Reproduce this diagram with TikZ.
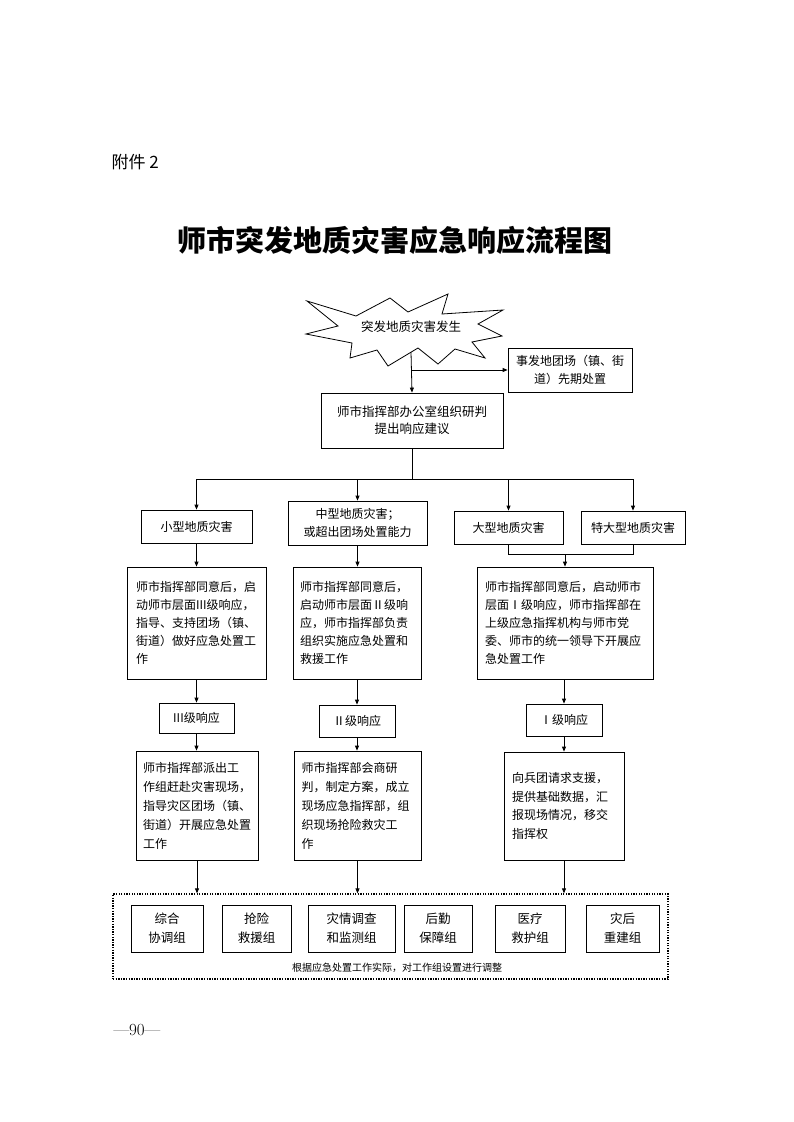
\documentclass[tikz,border=0pt]{standalone}
\usepackage{fontspec}
\newfontfamily\cjk{Noto Sans CJK SC}
\usetikzlibrary{arrows.meta}
\tikzset{
  box/.style={draw=black, line width=0.8pt, fill=white, inner sep=0pt, align=center,
    font=\cjk\fontsize{12}{18}\selectfont},
  lbox/.style={box, align=left},
  arr/.style={-{Triangle[length=5pt,width=4pt]}, line width=0.8pt},
  ln/.style={line width=0.8pt},
  grpbox/.style={draw=black, line width=1.3pt, dash pattern=on 1.3pt off 1.3pt, inner sep=0pt}
}
\begin{document}
\begin{tikzpicture}[x=1pt,y=-1pt]
\useasboundingbox[fill=white] (0,0) rectangle (793,1122);

% header
\node[anchor=west, font=\cjk\fontsize{17}{20}\selectfont] (att) at (108,162) {附件 2};
\node[font=\cjk\bfseries\fontsize{29}{34}\selectfont] (title) at (395,240) {师市突发地质灾害应急响应流程图};

% starburst
\draw[line width=0.8pt, fill=white] (307,301) -- (356,316) -- (390,298) -- (408,312) -- (448,294) -- (442,314)
  -- (503,310) -- (478,324) -- (502,336) -- (472,342) -- (485,358) -- (455,349) -- (438,364)
  -- (418,348) -- (388,366) -- (377,350) -- (350,358) -- (352,343) -- (306,334) -- (338,326) -- cycle;
\node[font=\cjk\fontsize{12.5}{15}\selectfont] (burst) at (411,327) {突发地质灾害发生};
\coordinate (burstb) at (411,352);
\coordinate (br) at (411,370);

\node[box, minimum width=124pt, minimum height=44pt] (early) at (570,370) {事发地团场（镇、街\\道）先期处置};
\node[box, minimum width=182pt, minimum height=55pt, font=\cjk\fontsize{12.5}{17}\selectfont] (main) at (412,420.5) {师市指挥部办公室组织研判\\提出响应建议};

\draw[arr] (burstb) -- (main.north);
\draw[arr] (br) -- (early.west);

% level boxes
\node[box, minimum width=111pt, minimum height=33pt] (small) at (196.5,526.5) {小型地质灾害};
\node[box, minimum width=139pt, minimum height=44pt] (mid) at (357.5,523) {中型地质灾害；\\或超出团场处置能力};
\node[box, minimum width=109pt, minimum height=33pt] (large) at (508.5,527.5) {大型地质灾害};
\node[box, minimum width=104pt, minimum height=33pt] (xlarge) at (633,527.5) {特大型地质灾害};

\coordinate (hub) at (412,479);
\draw[ln] (main.south) -- (hub);
\draw[ln] (small.north |- hub) -- (xlarge.north |- hub);
\draw[arr] (small.north |- hub) -- (small.north);
\draw[arr] (mid.north |- hub) -- (mid.north);
\draw[arr] (large.north |- hub) -- (large.north);
\draw[arr] (xlarge.north |- hub) -- (xlarge.north);

% response boxes
\node[lbox, minimum width=139pt, minimum height=112pt, text width=121pt] (A) at (196.5,623)
  {师市指挥部同意后，启\\动师市层面III级响应，\\指导、支持团场（镇、\\街道）做好应急处置工\\作};
\node[lbox, minimum width=128pt, minimum height=112pt, text width=114pt] (B) at (357,623)
  {师市指挥部同意后，\\启动师市层面Ⅱ级响\\应，师市指挥部负责\\组织实施应急处置和\\救援工作};
\node[lbox, minimum width=176pt, minimum height=112pt, text width=160pt] (C) at (565,623)
  {师市指挥部同意后，启动师市\\层面Ⅰ级响应，师市指挥部在\\上级应急指挥机构与师市党\\委、师市的统一领导下开展应\\急处置工作};

\coordinate (merge) at (565,554);
\draw[ln] (large.south) -- (large.south |- merge) -- (xlarge.south |- merge) -- (xlarge.south);
\draw[arr] (merge) -- (C.north);
\draw[arr] (small.south) -- (A.north);
\draw[arr] (mid.south) -- (mid.south |- B.north);

% level labels
\node[box, minimum width=75pt, minimum height=30pt] (L3) at (196.5,718) {III级响应};
\node[box, minimum width=76pt, minimum height=32pt] (L2) at (357,721) {Ⅱ级响应};
\node[box, minimum width=76pt, minimum height=32pt] (L1) at (564,720) {Ⅰ级响应};

\draw[arr] (A.south) -- (L3.north);
\draw[arr] (B.south) -- (L2.north);
\draw[arr] (L1.north |- C.south) -- (L1.north);

% action boxes
\node[lbox, minimum width=122pt, minimum height=109pt, text width=108pt, font=\cjk\fontsize{12}{19}\selectfont] (D) at (197,805.5)
  {师市指挥部派出工\\作组赶赴灾害现场，\\指导灾区团场（镇、\\街道）开展应急处置\\工作};
\node[lbox, minimum width=127pt, minimum height=109pt, text width=112pt, font=\cjk\fontsize{12}{19}\selectfont] (E) at (357.5,805.5)
  {师市指挥部会商研\\判，制定方案，成立\\现场应急指挥部，组\\织现场抢险救灾工\\作};
\node[lbox, minimum width=120pt, minimum height=108pt, text width=104pt, font=\cjk\fontsize{12}{18.5}\selectfont] (F) at (564,806)
  {向兵团请求支援，\\提供基础数据，汇\\报现场情况，移交\\指挥权};

\draw[arr] (L3.south) -- (L3.south |- D.north);
\draw[arr] (L2.south) -- (L2.south |- E.north);
\draw[arr] (L1.south) -- (L1.south |- F.north);

% working groups
\node[grpbox, minimum width=555pt, minimum height=85pt] (grp) at (390.5,936.5) {};
\draw[arr] (D.south) -- (D.south |- grp.north);
\draw[arr] (E.south) -- (E.south |- grp.north);
\draw[arr] (F.south) -- (F.south |- grp.north);

\node[box, minimum width=72pt, minimum height=47pt, font=\cjk\fontsize{12.5}{19}\selectfont] (g1) at (167,928.5) {综合\\协调组};
\node[box, minimum width=69pt, minimum height=47pt, font=\cjk\fontsize{12.5}{19}\selectfont] (g2) at (256.5,928.5) {抢险\\救援组};
\node[box, minimum width=87pt, minimum height=47pt, font=\cjk\fontsize{12.5}{19}\selectfont] (g3) at (351.5,928.5) {灾情调查\\和监测组};
\node[box, minimum width=68pt, minimum height=47pt, font=\cjk\fontsize{12.5}{19}\selectfont] (g4) at (438,928.5) {后勤\\保障组};
\node[box, minimum width=70pt, minimum height=47pt, font=\cjk\fontsize{12.5}{19}\selectfont] (g5) at (530,928.5) {医疗\\救护组};
\node[box, minimum width=73pt, minimum height=47pt, font=\cjk\fontsize{12.5}{19}\selectfont] (g6) at (622.5,928.5) {灾后\\重建组};
\node[font=\cjk\fontsize{10}{12}\selectfont] (cap) at (397,968) {根据应急处置工作实际，对工作组设置进行调整};

% page number
\node[anchor=west, font=\fontsize{17}{20}\selectfont] (pg) at (110,1030) {---90---};
\end{tikzpicture}
\end{document}
